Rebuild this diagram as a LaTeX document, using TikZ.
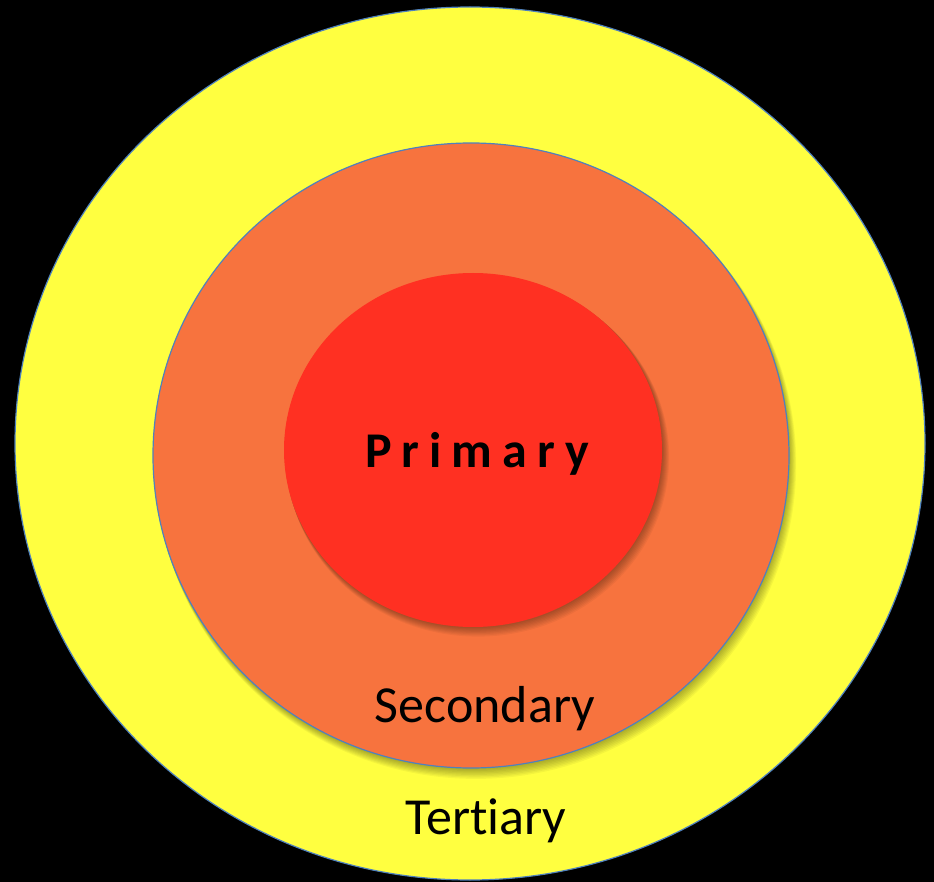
\documentclass[tikz,border=0pt]{standalone}
\usepackage{fontspec}
\setmainfont[Ligatures=NoCommon]{Carlito}
\newfontfamily\primfont[LetterSpace=20,Ligatures=NoCommon]{Carlito}
\definecolor{bgblack}{RGB}{0,0,0}
\definecolor{ringyellow}{RGB}{255,255,64}
\definecolor{ringorange}{RGB}{247,115,62}
\definecolor{ringred}{RGB}{255,48,34}
\definecolor{ringline}{RGB}{79,129,189}
\tikzset{
  ring/.style={draw=ringline, line width=1.2pt},
  lbl/.style={anchor=base, inner sep=0pt, font=\fontsize{52}{60}\selectfont, text=black},
}
\begin{document}
\begin{tikzpicture}[x=1pt,y=-1pt]
\fill[bgblack] (0,0) rectangle (934,882);
\useasboundingbox (0,0) rectangle (934,882);
% tertiary
\path[ring, fill=ringyellow] (470,443.5) ellipse [x radius=455, y radius=436.5];
% shadow of secondary
\foreach \k in {1,...,8}{
  \fill[black, opacity=0.045] (471+0.6*\k,456+1.0*\k) ellipse [x radius=318+0.3*\k, y radius=312.5+0.3*\k];
}
\path[ring, fill=ringorange] (471,455.5) ellipse [x radius=318, y radius=312.5];
% shadow of primary
\foreach \k in {1,...,8}{
  \fill[black, opacity=0.045] (473+0.6*\k,450+0.9*\k) ellipse [x radius=189+0.3*\k, y radius=177+0.3*\k];
}
\fill[ringred] (473,450) ellipse [x radius=189, y radius=177];
\node[lbl, font=\primfont\bfseries\fontsize{50}{60}\selectfont] (prim) at (477,467) {Primary};
\node[lbl] (sec) at (485,722) {Secondary};
\node[lbl] (ter) at (486,834) {Tertiary};
\end{tikzpicture}
\end{document}
